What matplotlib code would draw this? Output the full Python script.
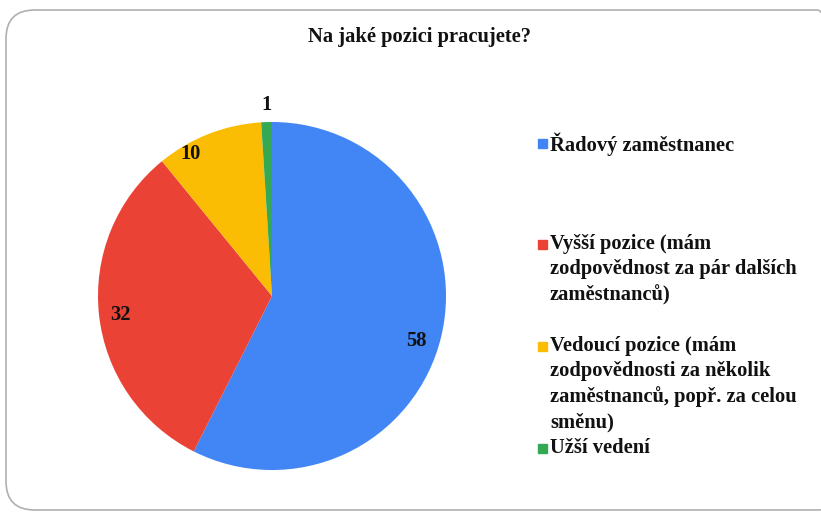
import matplotlib.pyplot as plt
from matplotlib.patches import FancyBboxPatch, Rectangle
import numpy as np

title = 'Na jaké pozici pracujete?'
categories = ['Řadový zaměstnanec',
              'Vyšší pozice (mám\nzodpovědnost za pár dalších\nzaměstnanců)',
              'Vedoucí pozice (mám\nzodpovědnosti za několik\nzaměstnanců, popř. za celou\nsměnu)',
              'Užší vedení']
values = [58, 32, 10, 1]
colors = ['#4285F4', '#EA4335', '#FBBC04', '#34A853']

W, H = 821, 512
fig = plt.figure(figsize=(W / 100, H / 100), dpi=100)
font = dict(family='Liberation Serif', weight='bold', color='#111111')
fs = 14.8

# rounded border (runs off the right edge like the screenshot)
border = FancyBboxPatch((6 / W, 2 / H), 840 / W, 500 / H,
                        boxstyle='round,pad=0,rounding_size=0.035',
                        transform=fig.transFigure, fill=False,
                        edgecolor='#b0b0b0', linewidth=1.2,
                        mutation_aspect=W / H)
fig.patches.append(border)

fig.text(419 / W, 1 - 37 / H, title, ha='center', va='center', fontsize=fs, **font)

# pie: centre (272, 296) px, radius ~174 px
r = 174
ax = fig.add_axes([(272 - r) / W, 1 - (296 + r) / H, 2 * r / W, 2 * r / H])
wedges, _ = ax.pie(values, colors=colors, startangle=90, counterclock=False,
                   radius=1, wedgeprops=dict(linewidth=0))
ax.set_xlim(-1, 1)
ax.set_ylim(-1, 1)
ax.set_aspect('equal')
ax.axis('off')

label_dist = [0.87, 0.88, 0.94, 1.1]
label_shift = [-4, 1, 8.5, 0]
for w, v, d, s in zip(wedges, values, label_dist, label_shift):
    ang = np.deg2rad((w.theta1 + w.theta2) / 2 + s)
    ax.text(d * np.cos(ang), d * np.sin(ang), str(v), ha='center', va='center',
            fontsize=fs, clip_on=False, **font)

# legend entries, spaced evenly
for i, (lab, c) in enumerate(zip(categories, colors)):
    y = 143 + 101.7 * i
    fig.patches.append(Rectangle((538 / W, 1 - (y + 4.5) / H), 9 / W, 9 / H,
                                 transform=fig.transFigure, color=c))
    fig.text(550 / W, 1 - (y - 10.5) / H, lab, ha='left', va='top',
             fontsize=fs, linespacing=1.34, **font)

fig.savefig('out.png', dpi=100, facecolor='white')
